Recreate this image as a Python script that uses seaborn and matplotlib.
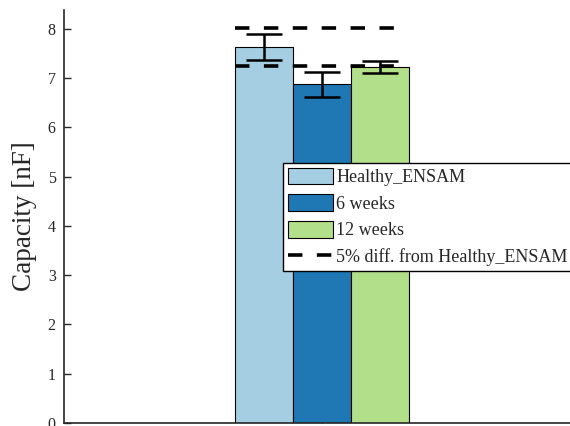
import matplotlib
matplotlib.use("Agg")
import matplotlib.pyplot as plt
import seaborn as sns
import pandas as pd
import numpy as np
from matplotlib.patches import Patch
from matplotlib.lines import Line2D

conditions = ["Healthy_ENSAM", "6 weeks", "12 weeks"]
group = ["1", "1", "1"]
capacity = [7.63, 6.87, 7.22]
errors = [0.27, 0.26, 0.12]
colors = ["#a6cee3", "#1f78b4", "#b2df8a"]
ref_label = "5% diff. from Healthy_ENSAM"

sns.set_theme(style="white")
plt.rcParams["font.family"] = ["Liberation Serif", "DejaVu Serif"]

df = pd.DataFrame({"group": group, "condition": conditions, "capacity": capacity})

fig = plt.figure(figsize=(5.7, 4.26), dpi=100)
ax = fig.add_axes([64/570, 3/426, 516/570, 413/426])

sns.barplot(data=df, x="group", y="capacity", hue="condition", hue_order=conditions,
            palette=colors, width=0.675, dodge=True, errorbar=None,
            edgecolor="black", linewidth=0.8, saturation=1, legend=False, ax=ax)

bars = [p for p in ax.patches][:3]
centers = [b.get_x() + b.get_width()/2 for b in bars]
heights = [b.get_height() for b in bars]
ax.errorbar(centers, heights, yerr=errors, fmt="none", ecolor="black",
            elinewidth=1.8, capsize=13, capthick=1.8, zorder=5)

left = bars[0].get_x()
right = bars[-1].get_x() + bars[-1].get_width() - 0.03
for f in (1.05, 0.95):
    ax.hlines(capacity[0]*f, left, right, colors="black", linestyles=(0, (4, 4)),
              linewidth=2.6, zorder=6)

ax.set_xlim(-1, 1)
ax.set_ylim(0, 8.38)
ax.set_yticks(range(0, 9))
ax.set_xticks([0])
ax.set_xticklabels([""])
ax.set_xlabel("")
ax.set_ylabel("Capacity [nF]", fontsize=19.5, color="#262626", labelpad=8)
ax.tick_params(axis="y", direction="in", length=5, width=1, labelsize=11.5, colors="#262626",
               left=True, pad=6)
ax.tick_params(axis="x", direction="in", length=5, width=1, bottom=True)
for s in ("top", "right"):
    ax.spines[s].set_visible(False)
for s in ("left", "bottom"):
    ax.spines[s].set_color("#262626")
    ax.spines[s].set_linewidth(1.2)

handles = [Patch(facecolor=c, edgecolor="black", linewidth=0.8) for c in colors]
handles.append(Line2D([0], [0], color="black", linestyle=(0, (4, 4)), linewidth=2.6))
leg = fig.legend(handles, conditions + [ref_label], loc="upper left",
                 bbox_to_anchor=(283/570, 1-163/426), bbox_transform=fig.transFigure,
                 borderaxespad=0, fontsize=13, frameon=True, fancybox=False,
                 handlelength=2.5, handleheight=1.05, handletextpad=0.2,
                 labelspacing=0.45, borderpad=0.25)
leg.get_frame().set_edgecolor("black")
leg.get_frame().set_linewidth(1.0)
leg.get_frame().set_alpha(1)

fig.savefig("out.png", dpi=100)
